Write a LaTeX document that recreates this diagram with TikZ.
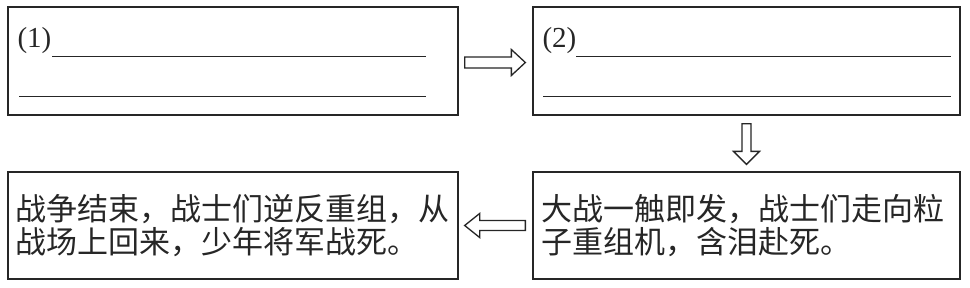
\documentclass[tikz,border=0pt]{standalone}
\usepackage{fontspec}
\setmainfont{Liberation Serif}
\newfontfamily\cjk{Noto Sans CJK SC}
\usetikzlibrary{calc}
\definecolor{ink}{gray}{0.15}
\begin{document}
\begin{tikzpicture}[x=1pt,y=-1pt,
  box/.style={draw=ink,line width=1.3pt,rectangle,inner sep=0pt,minimum height=108pt},
  txtbox/.style={box,inner xsep=8pt,inner ysep=0pt,align=left,
    font=\cjk\fontsize{31}{33}\selectfont,text=ink},
  numlabel/.style={font=\fontsize{29}{30}\selectfont,text=ink,inner sep=0pt,anchor=base west},
  blank/.style={draw=ink,line width=1.7pt},
  blockarrow/.style={draw=ink,line width=1.3pt,line join=miter,fill=white}]
\useasboundingbox (0,0) rectangle (970,287);
% boxes
\node[box,minimum width=450pt] (b1) at (233,61) {};
\node[box,minimum width=427pt] (b2) at (746.5,61) {};
\node[txtbox,text width=434pt,minimum height=107pt] (b3) at (233,225.5)
  {战争结束，战士们逆反重组，从\\战场上回来，少年将军战死。};
\node[txtbox,text width=411pt,minimum height=107pt] (b4) at (746.5,225.5)
  {大战一触即发，战士们走向粒\\子重组机，含泪赴死。};
% box 1 content
\node[numlabel] (n1) at ($(b1.north west)+(10,41)$) {(1)};
\coordinate (l1a) at ($(b1.north west)+(45,50)$);
\coordinate (l1b) at ($(b1.north east)+(-33,50)$);
\coordinate (l2a) at ($(b1.north west)+(12,90)$);
\coordinate (l2b) at ($(b1.north east)+(-33,90)$);
\draw[blank] (l1a) -- (l1b);
\draw[blank] (l2a) -- (l2b);
% box 2 content
\node[numlabel] (n2) at ($(b2.north west)+(10,41)$) {(2)};
\coordinate (m1a) at ($(b2.north west)+(44,50)$);
\coordinate (m1b) at ($(b2.north east)+(-10,50)$);
\coordinate (m2a) at ($(b2.north west)+(11,90)$);
\coordinate (m2b) at ($(b2.north east)+(-10,90)$);
\draw[blank] (m1a) -- (m1b);
\draw[blank] (m2a) -- (m2b);
% right arrow b1 -> b2
\coordinate (ra1) at ($(b1.east)+(6,1.5)$);
\coordinate (ra2) at ($(b2.west)+(-7,1.5)$);
\draw[blockarrow] ($(ra1)+(0,-5.5)$) -- ($(ra2)+(-14,-5.5)$) -- ($(ra2)+(-14,-13)$)
  -- (ra2) -- ($(ra2)+(-14,13)$) -- ($(ra2)+(-14,5.5)$) -- ($(ra1)+(0,5.5)$) -- cycle;
% down arrow b2 -> b4
\coordinate (da1) at ($(b2.south)+(0,8)$);
\coordinate (da2) at ($(b4.north)+(0,-7)$);
\draw[blockarrow] ($(da1)+(-4.5,0)$) -- ($(da2)+(-4.5,-13)$) -- ($(da2)+(-13,-13)$)
  -- (da2) -- ($(da2)+(13,-13)$) -- ($(da2)+(4.5,-13)$) -- ($(da1)+(4.5,0)$) -- cycle;
% left arrow b4 -> b3
\coordinate (la1) at ($(b4.west)+(-7,0)$);
\coordinate (la2) at ($(b3.east)+(6,0)$);
\draw[blockarrow] ($(la1)+(0,-5)$) -- ($(la2)+(15,-5)$) -- ($(la2)+(15,-12)$)
  -- (la2) -- ($(la2)+(15,12)$) -- ($(la2)+(15,5)$) -- ($(la1)+(0,5)$) -- cycle;
\end{tikzpicture}
\end{document}
